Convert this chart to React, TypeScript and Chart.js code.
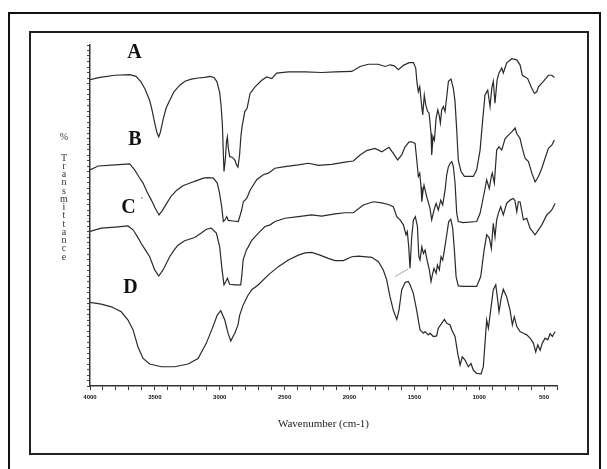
import React, { useEffect, useRef } from "react";
import { Chart, registerables } from "chart.js";

Chart.register(...registerables);

// Wavenumber (cm-1) and relative transmittance (offset units) for each spectrum
const wnA = [4000,3923,3807,3694,3645,3607,3576,3540,3522,3501,3483,3470,3457,3437,3414,3386,3353,3308,3268,3219,3167,3116,3075,3044,3021,3000,2990,2980,2973,2967,2957,2948,2941,2934,2923,2905,2884,2870,2859,2847,2836,2828,2807,2789,2766,2728,2676,2638,2599,2561,2471,2342,2214,2111,1982,1918,1854,1777,1726,1687,1654,1623,1584,1540,1507,1489,1479,1469,1458,1448,1435,1423,1412,1397,1386,1371,1366,1355,1345,1332,1319,1309,1299,1289,1276,1263,1250,1237,1217,1199,1186,1173,1161,1140,1114,1045,1019,993,975,955,934,916,903,891,878,862,847,826,814,788,749,710,685,667,646,626,600,574,556,543,505,466,440,420];
const tA = [55.7,56.1,56.5,56.6,56.3,55.3,54.0,51.9,50.2,47.8,46.0,45.3,46.2,48.4,50.5,51.9,53.5,54.7,55.4,55.8,56.0,56.1,56.3,56.1,55.3,53.3,51.1,47.8,42.9,39.0,41.1,44.4,45.3,43.3,41.7,41.6,41.1,40.2,39.8,42.0,45.6,47.1,49.9,50.5,53.2,54.4,55.6,56.2,55.9,56.9,57.1,57.1,57.0,57.1,57.2,58.1,58.5,58.5,58.1,58.4,58.2,57.5,58.3,58.8,58.8,57.8,55.1,53.5,54.4,52.0,49.3,52.9,51.1,49.9,49.6,45.9,42.0,45.3,44.7,48.7,50.2,49.3,47.8,50.2,50.8,49.9,52.6,55.4,55.8,54.1,51.7,46.5,41.1,39.0,38.1,38.1,39.3,42.9,47.8,52.9,53.8,50.8,54.1,55.4,51.4,55.6,56.9,57.8,56.9,58.7,59.5,59.3,58.4,56.5,56.2,55.9,54.4,53.2,53.5,54.4,55.4,56.5,56.5,56.1];

const wnB = [4000,3938,3807,3694,3656,3622,3591,3561,3527,3499,3468,3445,3409,3375,3331,3284,3229,3183,3126,3090,3049,3019,3002,2985,2972,2959,2946,2934,2898,2857,2844,2831,2818,2792,2766,2715,2664,2625,2574,2497,2394,2317,2240,2137,2034,1970,1918,1867,1803,1751,1695,1662,1628,1597,1571,1540,1520,1494,1481,1469,1458,1448,1442,1432,1425,1404,1379,1366,1348,1332,1315,1296,1281,1263,1250,1238,1224,1211,1199,1186,1173,1161,1124,1019,993,962,942,922,906,899,883,865,847,826,800,775,749,723,710,685,667,646,620,594,569,543,517,492,466,440,420];
const tB = [39.3,40.0,40.2,40.4,39.3,38.0,36.9,35.3,33.8,32.4,31.1,31.8,33.2,34.5,35.6,36.4,36.9,37.3,37.8,37.9,37.8,36.9,35.1,32.6,29.9,30.2,30.8,30.1,30.0,29.9,30.9,32.0,33.5,34.1,35.6,37.5,38.4,38.7,39.6,39.9,40.2,40.5,40.1,40.3,40.7,40.9,42.0,42.8,43.2,42.6,43.4,42.3,41.1,42.0,43.5,44.4,44.4,44.1,41.1,38.1,38.7,36.2,33.5,35.6,36.5,34.4,32.3,30.2,32.0,33.2,32.0,33.8,32.9,35.6,38.4,39.8,40.5,40.8,39.9,36.9,31.4,29.9,29.7,29.9,31.4,35.0,37.5,35.9,38.1,38.7,36.9,42.9,43.5,42.9,45.0,45.6,46.2,46.9,45.9,45.0,43.2,41.4,40.8,38.7,37.1,38.1,39.6,41.4,43.2,43.8,44.7];

const wnC = [4000,3913,3807,3707,3668,3638,3605,3572,3540,3501,3470,3437,3386,3352,3322,3270,3193,3142,3103,3065,3026,3000,2982,2967,2955,2941,2923,2882,2838,2828,2820,2795,2780,2753,2702,2651,2612,2574,2497,2394,2291,2214,2111,2034,1970,1893,1816,1751,1700,1662,1635,1610,1584,1564,1554,1543,1533,1520,1507,1492,1476,1465,1456,1442,1430,1417,1399,1384,1371,1358,1348,1332,1322,1307,1294,1281,1268,1250,1235,1219,1204,1191,1178,1161,1124,1019,988,962,942,922,906,891,878,865,852,834,814,788,762,737,724,710,698,685,659,633,608,569,543,517,479,440,415];
const tC = [28.1,28.7,28.9,29.1,28.4,27.3,25.9,24.7,23.5,21.1,20.0,21.1,23.5,24.7,25.6,26.4,27.0,27.8,28.5,28.7,27.8,25.3,21.1,18.4,18.9,19.6,18.5,18.4,18.4,20.5,22.9,24.7,25.3,26.5,27.8,29.0,29.3,29.9,30.5,30.8,31.1,30.9,31.3,31.5,31.5,32.9,33.5,33.3,33.0,32.6,30.8,30.2,29.3,27.5,28.1,25.3,21.4,27.1,30.2,30.8,29.0,23.5,22.9,25.3,24.1,24.7,22.6,21.1,19.0,20.5,21.4,20.5,22.0,21.1,23.5,22.9,24.7,27.5,29.9,30.3,28.7,24.7,19.9,18.2,18.1,18.1,19.9,24.7,27.5,26.9,25.0,29.6,27.1,30.2,31.4,32.6,31.1,33.2,33.8,34.1,33.7,31.7,33.5,33.5,30.2,30.5,28.7,27.5,28.4,29.3,31.1,32.0,33.2];

const wnD = [4000,3913,3836,3759,3707,3668,3630,3591,3540,3450,3347,3244,3167,3103,3052,3019,2992,2961,2936,2915,2884,2859,2846,2820,2782,2753,2702,2625,2548,2471,2394,2342,2291,2227,2163,2111,2047,1982,1931,1828,1777,1739,1713,1687,1662,1635,1618,1597,1571,1546,1533,1508,1482,1456,1430,1417,1392,1379,1353,1328,1315,1289,1268,1250,1224,1211,1186,1165,1147,1130,1109,1083,1063,1045,1019,985,968,955,942,929,908,891,872,857,847,831,814,788,762,744,729,710,685,659,633,608,582,564,548,530,513,492,471,453,435,415];
const tD = [15.2,14.9,14.4,13.5,12.0,10.2,7.1,5.0,4.0,3.5,3.5,4.0,5.0,7.8,10.8,12.9,13.7,12.0,9.6,8.2,9.6,11.1,12.9,14.7,16.5,17.5,18.4,20.2,21.7,22.9,23.8,24.2,24.3,23.8,23.2,22.8,22.8,23.5,23.6,23.4,22.6,21.1,19.3,16.2,13.8,12.1,13.8,17.5,18.8,19.0,18.4,16.9,13.8,10.2,9.6,9.9,9.3,9.6,9.0,9.1,10.5,11.4,12.1,11.4,11.1,10.2,9.0,5.9,3.8,5.3,4.7,3.5,4.1,2.9,2.3,2.2,3.5,7.8,12.0,10.5,14.4,17.5,18.4,15.6,13.5,15.9,17.6,16.2,13.8,11.1,12.6,10.8,9.9,9.6,9.3,8.7,7.8,6.2,7.5,6.5,7.8,8.7,8.4,9.5,9.0,9.9];

// small pointer stroke between C and D
const wnPointer = [1648, 1546];
const tPointer = [19.9, 21.3];

const seriesLabels = ["A", "B", "C", "D"];
const xTickStep = 100;
const xLabelEvery = 500;
const yAxisTitle = ["%", "T", "r", "a", "n", "s", "m", "i", "t", "t", "a", "n", "c", "e"];
const xAxisTitle = "Wavenumber (cm-1)";

const toPts = (xs: number[], ys: number[]) => xs.map((x, i) => ({ x, y: ys[i] }));

const decorPlugin = {
  id: "decor",
  beforeDraw(chart: any) {
    const ctx = chart.ctx;
    ctx.save();
    ctx.fillStyle = "#ffffff";
    ctx.fillRect(0, 0, chart.width, chart.height);
    ctx.strokeStyle = "#111";
    ctx.lineWidth = 2;
    ctx.strokeRect(9, 13, 591, 470);
    ctx.strokeStyle = "#222";
    ctx.lineWidth = 2;
    ctx.strokeRect(30, 32, 558, 422);
    ctx.restore();
  },
  afterDraw(chart: any) {
    const ctx = chart.ctx;
    ctx.save();
    ctx.fillStyle = "#111";
    ctx.textAlign = "center";
    ctx.textBaseline = "alphabetic";
    ctx.font = "bold 20px 'Liberation Serif', serif";
    const pos = [[134.5, 57.5], [135, 144.5], [128.5, 213], [130.5, 293]];
    seriesLabels.forEach((s, i) => ctx.fillText(s, pos[i][0], pos[i][1]));
    ctx.font = "8px 'Liberation Serif', serif";
    ctx.fillText("'", 142, 203);
    ctx.fillStyle = "#333";
    ctx.font = "10px 'Liberation Serif', serif";
    ctx.textBaseline = "middle";
    yAxisTitle.forEach((c, i) => {
      const y = i === 0 ? 137 : 158 + (i - 1) * 8.25;
      ctx.fillText(c, 64, y);
    });
    ctx.restore();
  },
};

export default function App() {
  const ref = useRef<HTMLCanvasElement>(null);
  useEffect(() => {
    if (!ref.current) return;
    const line = "#2a2a2a";
    const mk = (label: string, xs: number[], ys: number[]) => ({
      label,
      data: toPts(xs, ys),
      borderColor: line,
      borderWidth: 1.2,
      pointRadius: 0,
      tension: 0,
      fill: false,
    });
    const chart = new Chart(ref.current, {
      type: "line",
      data: {
        datasets: [
          mk("A", wnA, tA),
          mk("B", wnB, tB),
          mk("C", wnC, tC),
          mk("D", wnD, tD),
          { label: "pointer", data: toPts(wnPointer, tPointer), borderColor: "#9a9a9a", borderWidth: 0.9, pointRadius: 0, fill: false },
        ],
      },
      options: {
        animation: false,
        responsive: false,
        devicePixelRatio: 1,
        layout: { padding: { left: 0, top: 45, right: 50, bottom: 0 } },
        plugins: { legend: { display: false }, tooltip: { enabled: false } },
        scales: {
          x: {
            type: "linear",
            reverse: true,
            min: 400,
            max: 4000,
            afterFit: (s: any) => { s.height = 83; },
            ticks: {
              stepSize: xTickStep,
              autoSkip: false,
              maxRotation: 0,
              padding: 4,
              color: "#111",
              font: { family: "'Liberation Sans', sans-serif", size: 6, weight: "bold" },
              callback: (v: any) => (Number(v) % xLabelEvery === 0 ? String(v) : ""),
            },
            grid: { drawOnChartArea: false, drawTicks: true, tickLength: 4, color: "#333", lineWidth: 1 },
            border: { display: true, color: "#333", width: 1.5 },
            title: {
              display: true,
              text: xAxisTitle,
              color: "#222",
              font: { family: "'Liberation Serif', serif", size: 11 },
              padding: { top: 0, bottom: 38 },
            },
          },
          y: {
            type: "linear",
            min: 0,
            max: 62,
            afterFit: (s: any) => { s.width = 90; },
            ticks: { display: false, stepSize: 1 },
            grid: { drawOnChartArea: false, drawTicks: true, tickLength: 3, color: "#444", lineWidth: 1 },
            border: { display: true, color: "#333", width: 1.5 },
          },
        },
      },
      plugins: [decorPlugin],
    });
    return () => chart.destroy();
  }, []);
  return (
    <canvas
      ref={ref}
      width={607}
      height={469}
      style={{ position: "absolute", left: 0, top: 0, width: 607, height: 469 }}
    />
  );
}
